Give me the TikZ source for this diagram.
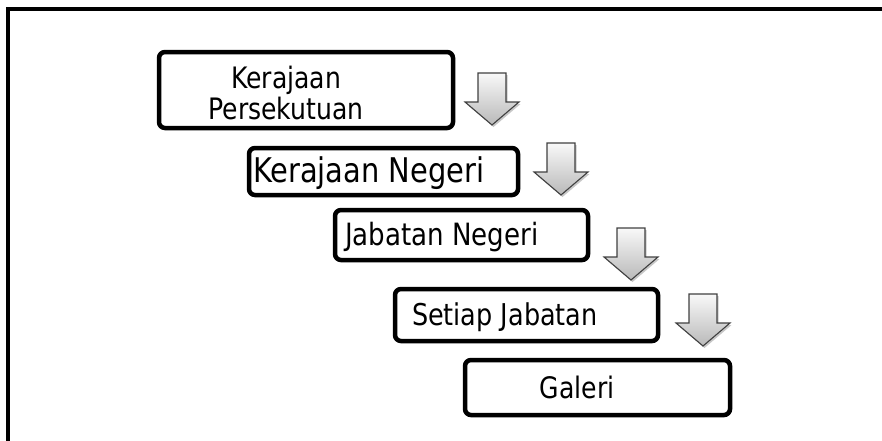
\documentclass[tikz,border=0pt]{standalone}
\usepackage{fontspec}
\setmainfont{DejaVu Sans}[FakeStretch=0.85]
\begin{document}
\begin{tikzpicture}[x=1pt,y=-1pt,
  box/.style={draw=black, line width=4.5pt, rounded corners=6pt, fill=white, inner sep=0pt, outer sep=0pt},
  lbl/.style={inner sep=0pt, outer sep=0pt, text=black},
  bigarrow/.style={draw=black!75, line width=1.1pt, top color=gray!5, bottom color=gray!55, line join=miter},
  downarr/.pic={
    \fill[black, opacity=0.22] (-12.5,-50) -- (15.5,-50) -- (15.5,-21) -- (28.5,-21) -- (1.5,2) -- (-25.5,-21) -- (-12.5,-21) -- cycle;
    \path[bigarrow] (-14,-52) -- (14,-52) -- (14,-23) -- (27,-23) -- (0,0) -- (-27,-23) -- (-14,-23) -- cycle;
  }]
\useasboundingbox (0,0) rectangle (882,440);
% outer frame
\coordinate (fbl) at (8,446);
\coordinate (ftl) at (8,9);
\coordinate (ftr) at (888,9);
\draw[line width=4.5pt] (fbl) -- (ftl) -- (ftr);

% boxes
\node[box, minimum width=294pt, minimum height=76pt] (b1) at (306,90) {};
\node[box, minimum width=269pt, minimum height=47pt] (b2) at (383.5,171.5) {};
\node[box, minimum width=253pt, minimum height=50pt] (b3) at (461.5,235) {};
\node[box, minimum width=263pt, minimum height=52pt] (b4) at (526.5,315) {};
\node[box, minimum width=265pt, minimum height=55pt] (b5) at (597.5,387.5) {};

% texts
\node[lbl, font=\fontsize{29.5}{31}\selectfont, align=center] (t1) at (286,93) {Kerajaan\\Persekutuan};
\node[lbl, font=\fontsize{34}{38}\selectfont, anchor=base west] (t2) at (253,182) {Kerajaan Negeri};
\node[lbl, font=\fontsize{30.7}{35}\selectfont, anchor=base west] (t3) at (345,245) {Jabatan Negeri};
\node[lbl, font=\fontsize{30}{34}\selectfont, anchor=base west] (t4) at (412,325) {Setiap Jabatan};
\node[lbl, font=\fontsize{29.6}{34}\selectfont, anchor=base] (t5) at (577,398) {Galeri};

% block arrows
\pic (a1) at (492,125) {downarr};
\pic (a2) at (561,195) {downarr};
\pic (a3) at (631,280) {downarr};
\pic (a4) at (703,346) {downarr};
\end{tikzpicture}
\end{document}
